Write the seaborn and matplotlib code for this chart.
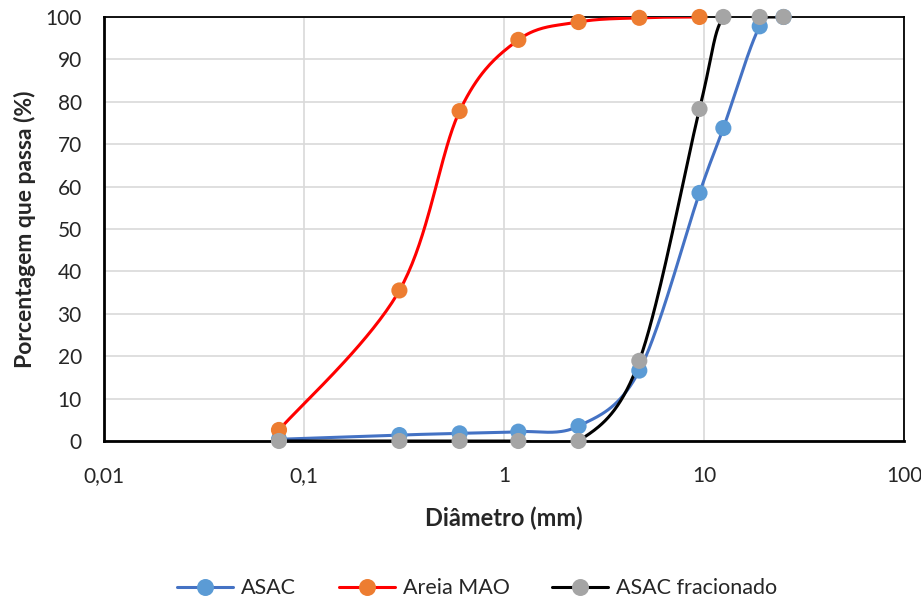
import numpy as np
import pandas as pd
import seaborn as sns
import matplotlib
matplotlib.use("Agg")
import matplotlib.pyplot as plt
import matplotlib.ticker as mtick
from matplotlib.lines import Line2D

# peneiras (mm) e porcentagem passante
peneiras = [0.075, 0.3, 0.6, 1.18, 2.36, 4.75, 9.5, 12.5, 19, 25]
asac = [0.4, 1.4, 1.8, 2.2, 3.5, 16.6, 58.5, 73.8, 97.8, 100]
peneiras_areia = [0.075, 0.3, 0.6, 1.18, 2.36, 4.75, 9.5]
areia_mao = [2.6, 35.5, 77.8, 94.6, 98.8, 99.8, 100]
asac_frac = [0, 0, 0, 0, 0, 18.9, 78.3, 100, 100, 100]

series_names = ["ASAC", "Areia MAO", "ASAC fracionado"]
line_colors = ["#4472C4", "#FF0000", "#000000"]
marker_colors = ["#5B9BD5", "#ED7D31", "#A5A5A5"]

sns.set_theme(style="white")
plt.rcParams["font.family"] = ["Lato", "DejaVu Sans"]


def smooth(x, y, n=40):
    # curva suavizada tipo Excel (Catmull-Rom em log x)
    lx = np.log10(np.asarray(x, dtype=float))
    yy = np.asarray(y, dtype=float)
    px = np.concatenate([[lx[0]], lx, [lx[-1]]])
    py = np.concatenate([[yy[0]], yy, [yy[-1]]])
    xs, ys = [], []
    t = np.linspace(0, 1, n)
    for i in range(1, len(px) - 2):
        b0x, b0y = px[i], py[i]
        b3x, b3y = px[i + 1], py[i + 1]
        b1x = b0x + (px[i + 1] - px[i - 1]) / 6
        b1y = b0y + (py[i + 1] - py[i - 1]) / 6
        b2x = b3x - (px[i + 2] - px[i]) / 6
        b2y = b3y - (py[i + 2] - py[i]) / 6
        bx = (1-t)**3*b0x + 3*(1-t)**2*t*b1x + 3*(1-t)*t**2*b2x + t**3*b3x
        by = (1-t)**3*b0y + 3*(1-t)**2*t*b1y + 3*(1-t)*t**2*b2y + t**3*b3y
        xs.extend(bx)
        ys.extend(by)
    return 10 ** np.array(xs), np.array(ys)


fig = plt.figure(figsize=(9.21, 6.04), dpi=100)
ax = fig.add_axes([0.1129, 0.2699, 0.8686, 0.702])

data = [(peneiras, asac), (peneiras_areia, areia_mao), (peneiras, asac_frac)]
for (x, y), name, lc, mc in zip(data, series_names, line_colors, marker_colors):
    sx, sy = smooth(x, y)
    ax.plot(sx, sy, color=lc, lw=2.2, zorder=3, solid_capstyle="round")
    df = pd.DataFrame({"d": x, "p": y})
    sns.scatterplot(data=df, x="d", y="p", ax=ax, color=mc, s=135,
                    edgecolor="none", zorder=4, legend=False, clip_on=False)

ax.set_xscale("log")
ax.set_xlim(0.01, 100)
ax.set_ylim(0, 100)
ax.set_yticks(range(0, 101, 10))
ax.set_xticks([0.01, 0.1, 1, 10, 100])
ax.xaxis.set_minor_locator(mtick.NullLocator())
ax.set_xticklabels(["0,01", "0,1", "1", "10", "100"])
ax.grid(True, which="major", color="#D9D9D9", lw=1.2)
ax.set_axisbelow(True)
ax.tick_params(axis="both", labelsize=15, length=0)
ax.tick_params(axis="y", pad=16)
ax.tick_params(axis="x", pad=18)

for side in ["top", "right"]:
    ax.spines[side].set_color("black")
    ax.spines[side].set_linewidth(1.3)
for side in ["left", "bottom"]:
    ax.spines[side].set_color("black")
    ax.spines[side].set_linewidth(2)

ax.set_xlabel("Diâmetro (mm)", fontsize=17, fontweight="bold", labelpad=15)
ax.set_ylabel("Porcentagem que passa (%)", fontsize=16.5, fontweight="bold", labelpad=7)

handles = [Line2D([0], [0], color=lc, lw=2.2, marker="o", markersize=11.2,
                  markerfacecolor=mc, markeredgecolor=mc)
           for lc, mc in zip(line_colors, marker_colors)]
fig.legend(handles, series_names, loc="center", bbox_to_anchor=(0.518, 0.026),
           ncol=3, frameon=False, fontsize=15.5, handlelength=2.6,
           columnspacing=2.0, handletextpad=0.37)

fig.savefig("out.png", dpi=100)
